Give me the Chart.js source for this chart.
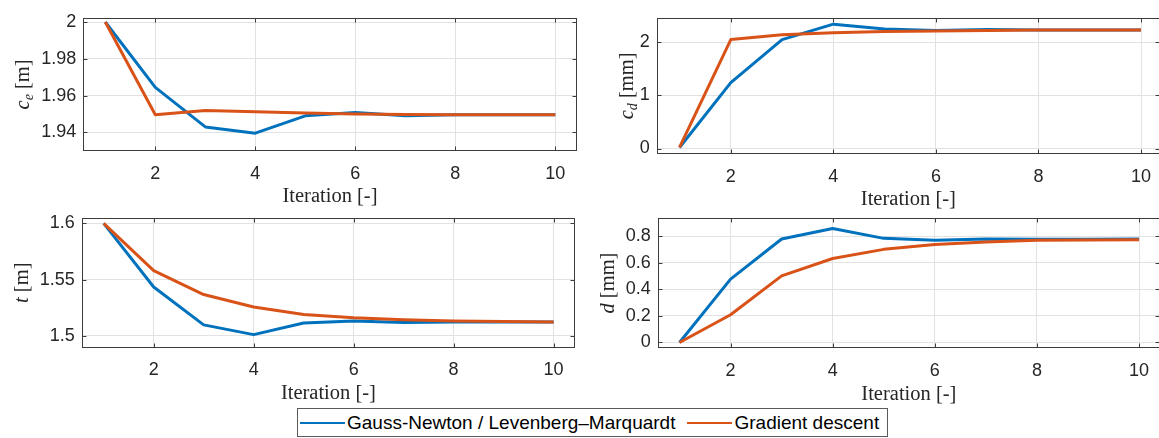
<!DOCTYPE html>
<html><head><meta charset="utf-8">
<script src="https://cdn.jsdelivr.net/npm/chart.js@4.4.1/dist/chart.umd.min.js"></script>
<style>
html,body{margin:0;padding:0;background:#fff;overflow:hidden;width:1159px;height:438px;position:relative}
canvas{position:absolute}
#legend{position:absolute;left:297px;top:408px;width:591px;height:29px;border:1px solid #5a5a5a;box-sizing:border-box;font-family:"Liberation Sans",Arial,sans-serif;font-size:19px;color:#000;display:flex;align-items:center;white-space:nowrap;background:#fff}
.item{display:flex;align-items:center}
.swatch{display:inline-block;height:2px;width:45px;margin:0 2px 0 2px}
</style></head><body>
<canvas id="c0"></canvas><canvas id="c1"></canvas><canvas id="c2"></canvas><canvas id="c3"></canvas>
<div id="legend"></div>
<script>
// ---- data ----
const iterations = [1, 2, 3, 4, 5, 6, 7, 8, 9, 10];
const xTickValues = [2, 4, 6, 8, 10];
const xTickLabels = ['2', '4', '6', '8', '10'];
const seriesNames = ['Gauss-Newton / Levenberg\u2013Marquardt', 'Gradient descent'];
const seriesColors = ['#0072BD', '#D95319'];

const ceGaussNewton = [2.0, 1.9645, 1.943, 1.9396, 1.949, 1.9508, 1.949, 1.9496, 1.9496, 1.9496];
const ceGradient    = [2.0, 1.9496, 1.9519, 1.9512, 1.9505, 1.9500, 1.9497, 1.9496, 1.9496, 1.9496];
const ceTickValues = [1.94, 1.96, 1.98, 2];
const ceTickLabels = ['1.94', '1.96', '1.98', '2'];

const cdGaussNewton = [0.02, 1.24, 2.05, 2.34, 2.25, 2.22, 2.24, 2.23, 2.23, 2.23];
const cdGradient    = [0.02, 2.05, 2.14, 2.18, 2.20, 2.21, 2.22, 2.23, 2.23, 2.23];
const cdTickValues = [0, 1, 2];
const cdTickLabels = ['0', '1', '2'];

const tGaussNewton = [1.6, 1.5435, 1.5099, 1.5012, 1.5116, 1.5133, 1.5119, 1.5125, 1.5125, 1.5125];
const tGradient    = [1.6, 1.558, 1.5368, 1.5258, 1.5191, 1.5162, 1.5145, 1.5133, 1.5128, 1.5125];
const tTickValues = [1.5, 1.55, 1.6];
const tTickLabels = ['1.5', '1.55', '1.6'];

const dGaussNewton = [0.0, 0.4775, 0.78, 0.859, 0.785, 0.77, 0.78, 0.778, 0.778, 0.78];
const dGradient    = [0.0, 0.209, 0.502, 0.633, 0.702, 0.738, 0.758, 0.77, 0.773, 0.775];
const dTickValues = [0, 0.2, 0.4, 0.6, 0.8];
const dTickLabels = ['0', '0.2', '0.4', '0.6', '0.8'];

const xTitle = 'Iteration [-]';

// ---- layout (positions / styles) ----
const panels = [
  { id: 'c0', gn: ceGaussNewton, gd: ceGradient, tv: ceTickValues, tl: ceTickLabels,
    title: [{t: 'c', it: true}, {t: 'e', it: true, sub: true}, {t: ' [m]'}],
    canvas: {left: 0, top: 0, w: 580, h: 215}, area: {left: 83.3, top: 12.3, right: 576.7, bottom: 151},
    xr: [0.56, 10.428], yr: [1.9299, 2.0023], yTitleOff: 60 },
  { id: 'c1', gn: cdGaussNewton, gd: cdGradient, tv: cdTickValues, tl: cdTickLabels,
    title: [{t: 'c', it: true}, {t: 'd', it: true, sub: true}, {t: ' [mm]'}],
    canvas: {left: 580, top: 0, w: 600, h: 215}, area: {left: 76.7, top: 11.7, right: 580, bottom: 154},
    xr: [0.555, 10.37], yr: [-0.103, 2.46], yTitleOff: 30 },
  { id: 'c2', gn: tGaussNewton, gd: tGradient, tv: tTickValues, tl: tTickLabels,
    title: [{t: 't', it: true}, {t: ' [m]'}],
    canvas: {left: 0, top: 200, w: 580, h: 210}, area: {left: 81.7, top: 15, right: 575.1, bottom: 147.7},
    xr: [0.56, 10.43], yr: [1.4896, 1.605], yTitleOff: 60 },
  { id: 'c3', gn: dGaussNewton, gd: dGradient, tv: dTickValues, tl: dTickLabels,
    title: [{t: 'd', it: true}, {t: ' [mm]'}],
    canvas: {left: 580, top: 200, w: 600, h: 210}, area: {left: 77.7, top: 15, right: 580, bottom: 148.3},
    xr: [0.573, 10.41], yr: [-0.044, 0.94], yTitleOff: 50 }
];

const TICK_FONT = {family: '"Liberation Sans", Arial, sans-serif', size: 18};
const SERIF = '"Liberation Serif", "Times New Roman", serif';
const AX = '#262626';

const framePlugin = {
  id: 'frame',
  beforeDatasetsDraw(chart) {
    const {ctx, chartArea: a, scales: {x, y}} = chart;
    ctx.save();
    ctx.strokeStyle = '#3c3c3c';
    ctx.lineWidth = 1;
    const L = Math.round(a.left) + 0.5, R = Math.round(a.right) - 0.5, T = Math.round(a.top) + 0.5, B = Math.round(a.bottom) - 0.5;
    ctx.strokeRect(L, T, R - L, B - T);
    ctx.beginPath();
    const len = 4;
    x.ticks.forEach(t => {
      const px = Math.round(x.getPixelForValue(t.value)) + 0.5;
      ctx.moveTo(px, B); ctx.lineTo(px, B - len);
      ctx.moveTo(px, T); ctx.lineTo(px, T + len);
    });
    y.ticks.forEach(t => {
      const py = Math.round(y.getPixelForValue(t.value)) + 0.5;
      ctx.moveTo(L, py); ctx.lineTo(L + len, py);
      ctx.moveTo(R, py); ctx.lineTo(R - len, py);
    });
    ctx.stroke();
    ctx.restore();
  },
  afterDraw(chart, args, opts) {
    const {ctx, chartArea: a} = chart;
    const p = opts.panel;
    ctx.save();
    ctx.fillStyle = AX;
    // x title
    ctx.font = '20.5px ' + SERIF;
    ctx.textAlign = 'center';
    ctx.textBaseline = 'middle';
    ctx.fillText(xTitle, (a.left + a.right) / 2, a.bottom + 46);
    // y title (rotated, with subscript)
    const cx = a.left - p.yTitleOff, cy = (a.top + a.bottom) / 2;
    ctx.translate(cx, cy);
    ctx.rotate(-Math.PI / 2);
    ctx.textAlign = 'left';
    ctx.textBaseline = 'alphabetic';
    const fontOf = part => (part.it ? 'italic ' : '') + (part.sub ? '14px ' : '20.5px ') + SERIF;
    let total = 0;
    p.title.forEach(part => { ctx.font = fontOf(part); total += ctx.measureText(part.t).width; });
    let xx = -total / 2;
    p.title.forEach(part => {
      ctx.font = fontOf(part);
      ctx.fillText(part.t, xx, part.sub ? 10 : 6);
      xx += ctx.measureText(part.t).width;
    });
    ctx.restore();
  }
};

panels.forEach(p => {
  const cv = document.getElementById(p.id);
  cv.width = p.canvas.w; cv.height = p.canvas.h;
  cv.style.left = p.canvas.left + 'px'; cv.style.top = p.canvas.top + 'px';
  const pts = arr => iterations.map((it, i) => ({x: it, y: arr[i]}));
  new Chart(cv, {
    type: 'line',
    data: {
      datasets: [
        {label: seriesNames[0], data: pts(p.gn), borderColor: seriesColors[0], borderWidth: 3, order: 1},
        {label: seriesNames[1], data: pts(p.gd), borderColor: seriesColors[1], borderWidth: 3, order: 0}
      ]
    },
    options: {
      responsive: false, animation: false, devicePixelRatio: 1,
      layout: {padding: {left: 0, top: p.area.top, right: p.canvas.w - p.area.right, bottom: 0}},
      elements: {point: {radius: 0, hoverRadius: 0}, line: {tension: 0, borderCapStyle: 'butt', borderJoinStyle: 'round'}},
      plugins: {legend: {display: false}, tooltip: {enabled: false}, frame: {panel: p}},
      scales: {
        x: {
          type: 'linear', min: p.xr[0], max: p.xr[1],
          afterBuildTicks: s => { s.ticks = xTickValues.map(v => ({value: v})); },
          afterFit: s => { s.height = p.canvas.h - p.area.bottom; },
          ticks: {autoSkip: false, maxRotation: 0, padding: 12, font: TICK_FONT, color: AX,
            callback: v => xTickLabels[xTickValues.findIndex(t => Math.abs(t - v) < 1e-9)]},
          grid: {color: '#e2e2e2', drawTicks: false, lineWidth: 1},
          border: {display: false}
        },
        y: {
          type: 'linear', min: p.yr[0], max: p.yr[1],
          afterBuildTicks: s => { s.ticks = p.tv.map(v => ({value: v})); },
          afterFit: s => { s.width = p.area.left; },
          ticks: {autoSkip: false, padding: 7, font: TICK_FONT, color: AX,
            callback: v => p.tl[p.tv.findIndex(t => Math.abs(t - v) < 1e-9)]},
          grid: {color: '#e2e2e2', drawTicks: false, lineWidth: 1},
          border: {display: false}
        }
      }
    },
    plugins: [framePlugin]
  });
});

// legend
const lg = document.getElementById('legend');
seriesNames.forEach((name, i) => {
  const item = document.createElement('span');
  item.className = 'item';
  if (i > 0) item.style.marginLeft = '10px';
  const sw = document.createElement('span');
  sw.className = 'swatch';
  sw.style.background = seriesColors[i];
  const tx = document.createElement('span');
  tx.textContent = name;
  item.appendChild(sw); item.appendChild(tx);
  lg.appendChild(item);
});
</script>
</body></html>
